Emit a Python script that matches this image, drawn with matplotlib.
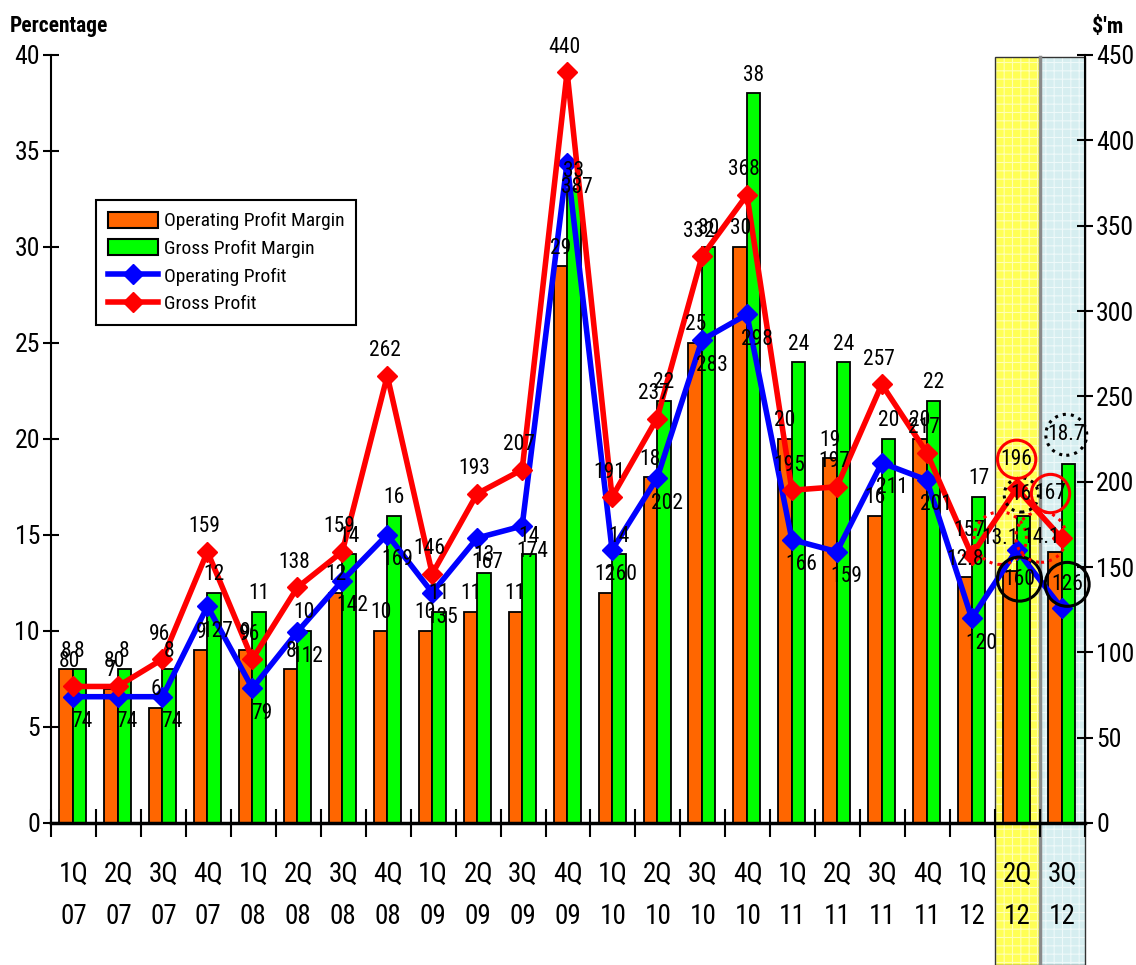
import numpy as np
import matplotlib
matplotlib.use("Agg")
import matplotlib.pyplot as plt
from matplotlib import font_manager as fm
from matplotlib.patches import Patch, Rectangle
from matplotlib.lines import Line2D

# ---------------- data ----------------
quarters = ["1Q\n07", "2Q\n07", "3Q\n07", "4Q\n07", "1Q\n08", "2Q\n08", "3Q\n08", "4Q\n08",
            "1Q\n09", "2Q\n09", "3Q\n09", "4Q\n09", "1Q\n10", "2Q\n10", "3Q\n10", "4Q\n10",
            "1Q\n11", "2Q\n11", "3Q\n11", "4Q\n11", "1Q\n12", "2Q\n12", "3Q\n12"]
op_margin = [8, 7, 6, 9, 9, 8, 12, 10, 10, 11, 11, 29, 12, 18, 25, 30, 20, 19, 16, 20, 12.8, 13.1, 14.1]
gross_margin = [8, 8, 8, 12, 11, 10, 14, 16, 11, 13, 14, 33, 14, 22, 30, 38, 24, 24, 20, 22, 17, 16, 18.7]
op_profit = [74, 74, 74, 127, 79, 112, 142, 169, 135, 167, 174, 387, 160, 202, 283, 298,
             166, 159, 211, 201, 120, 160, 126]
gross_profit = [80, 80, 96, 159, 96, 138, 159, 262, 146, 193, 207, 440, 191, 237, 332, 368,
                195, 197, 257, 217, 157, 196, 167]
series_names = ["Operating Profit Margin", "Gross Profit Margin", "Operating Profit", "Gross Profit"]

# ---------------- font choice (prefer a narrow face, like the original) ----------------
entries = fm.fontManager.ttflist
names = {f.name for f in entries}
FONT, STRETCH, S = "Liberation Sans", "normal", 0.9
for cand in ["Liberation Sans Narrow", "Arial Narrow", "Roboto Condensed", "Open Sans Condensed"]:
    if cand in names:
        FONT, STRETCH, S = cand, "normal", 1.0
        break
else:
    if any(f.name == "DejaVu Sans" and str(f.stretch) in ("condensed", "semi-condensed", "575", "500")
           for f in entries):
        FONT, STRETCH, S = "DejaVu Sans", "condensed", 0.92
plt.rcParams["font.family"] = [FONT, "DejaVu Sans"]
plt.rcParams["font.stretch"] = STRETCH
plt.rcParams["hatch.linewidth"] = 0.8

C_ORANGE = "#FF6600"
C_GREEN = "#00FF00"
C_BLUE = "#0000FF"
C_RED = "#FF0000"

W, H = 1136, 965
fig = plt.figure(figsize=(W / 100, H / 100), dpi=100)
ax = fig.add_axes([51 / W, 1 - 823 / H, (1085 - 51) / W, (823 - 55) / H])
ax2 = ax.twinx()

n = len(quarters)
x = np.arange(n) + 0.5
bw = 0.3
xj = x - 0.02

ax.set_xlim(0, n)
ax.set_ylim(0, 40)
ax2.set_ylim(0, 450)

# highlight bands for the last two quarters
ybot = (823 - H) / 768
ytop = (823 - 57) / 768
tr = ax.get_xaxis_transform()
band_specs = [(n - 2, "#FFFF55", "#FFFFB5"), (n - 1, "#D6EEF0", "#EEF9F9")]
for left, fc, hc in band_specs:
    ax.add_patch(Rectangle((left, ybot), 1, ytop - ybot, transform=tr, clip_on=False,
                           facecolor=fc, edgecolor=hc, hatch="++", lw=0, zorder=0.3))
    ax.add_patch(Rectangle((left, ybot), 1, ytop - ybot, transform=tr, clip_on=False,
                           facecolor="none", edgecolor="#333333", lw=1.0, zorder=0.4))
ax.add_line(Line2D([n - 1, n - 1], [ybot, ytop], transform=tr, color="#8A8A8A", lw=2.5,
                   clip_on=False, zorder=0.45))

# bars
ax.bar(xj - bw / 2, op_margin, bw, color=C_ORANGE, edgecolor="black", lw=1.3, zorder=2)
ax.bar(xj + bw / 2, gross_margin, bw, color=C_GREEN, edgecolor="black", lw=1.3, zorder=2)

# lines
ax2.plot(xj, op_profit, color=C_BLUE, lw=4, marker="D", ms=10, zorder=3)
ax2.plot(xj, gross_profit, color=C_RED, lw=4, marker="D", ms=10, zorder=3)

# ---------------- labels ----------------
lab_fs = 15.5 * S


def lab(v, xx, yy, trans, off, circ=None):
    kw = {}
    if circ is not None:
        ec, ls, pad = circ
        kw["bbox"] = dict(boxstyle=f"circle,pad={pad}", fc="none", ec=ec, ls=ls, lw=2.2)
    ax2.annotate(f"{v:g}", xy=(xx, yy), xycoords=trans, xytext=off, textcoords="offset points",
                 ha="center", va="center", fontsize=lab_fs, color="black", zorder=6,
                 annotation_clip=False, **kw)


over_orange = {n - 2: ((-7, 24), ("red", ":", 0.35)), n - 1: ((-10, 11), ("red", ":", 0.3))}
over_green = {n - 2: ((-1.5, 15), ("black", ":", 0.3)), n - 1: ((-1.5, 21), ("black", ":", 0.08))}
over_gross = {n - 2: ((0, 21), ("red", "-", 0.15)), n - 1: ((-8, 32), ("red", "-", 0.15))}
over_op = {n - 2: ((2, -21), ("black", "-", 0.28)), n - 1: ((4, 17), ("black", "-", 0.28))}

for i in range(n):
    off, c = over_orange.get(i, ((0, 13), None))
    lab(op_margin[i], xj[i] - bw / 2, op_margin[i], ax.transData, off, c)
    off, c = over_green.get(i, ((0, 13), None))
    lab(gross_margin[i], xj[i] + bw / 2, gross_margin[i], ax.transData, off, c)
    off, c = over_gross.get(i, ((-2, 18), None))
    lab(gross_profit[i], xj[i], gross_profit[i], ax2.transData, off, c)
    off, c = over_op.get(i, ((7, -18), None))
    lab(op_profit[i], xj[i], op_profit[i], ax2.transData, off, c)

# ---------------- axes styling ----------------
for sp in ["top", "right"]:
    ax.spines[sp].set_visible(False)
for sp in ["top", "left", "bottom"]:
    ax2.spines[sp].set_visible(False)
ax.spines["left"].set_linewidth(1.5)
ax.spines["bottom"].set_linewidth(2.5)
ax2.spines["right"].set_linewidth(1.5)

ax.set_yticks(np.arange(0, 41, 5))
ax2.set_yticks(np.arange(0, 451, 50))
ax.tick_params(axis="y", direction="inout", length=12, width=1.5, labelsize=18.5 * S, pad=2)
ax2.tick_params(axis="y", direction="inout", length=12, width=1.5, labelsize=18.5 * S, pad=2)

ax.set_xticks(x)
ax.set_xticklabels(quarters, fontsize=19.5 * S, linespacing=1.75)
ax.set_xticks(np.arange(0, n + 1), minor=True)
ax.tick_params(axis="x", which="major", length=0, pad=27)
ax.tick_params(axis="x", which="minor", direction="inout", length=20, width=1.5)

fig.text(10 / W, 1 - 26 / H, "Percentage", fontsize=15.5 * S, fontweight="bold", va="center", ha="left")
fig.text(1092 / W, 1 - 27 / H, "$'m", fontsize=16 * S, fontweight="bold", va="center", ha="left")

# legend
handles = [
    Patch(facecolor=C_ORANGE, edgecolor="black", lw=1.5),
    Patch(facecolor=C_GREEN, edgecolor="black", lw=1.5),
    Line2D([], [], color=C_BLUE, lw=4, marker="D", ms=10),
    Line2D([], [], color=C_RED, lw=4, marker="D", ms=10),
]
leg = ax2.legend(handles, series_names, loc="upper left", bbox_to_anchor=(96 / W, 1 - 200 / H),
                 bbox_transform=fig.transFigure, frameon=True, fancybox=False, edgecolor="black",
                 framealpha=1, fontsize=14 * S, borderpad=0.6, labelspacing=0.45,
                 handlelength=2.6, handleheight=0.9, handletextpad=0.3, borderaxespad=0)
leg.get_frame().set_linewidth(1.5)
leg.set_zorder(10)

fig.savefig("out.png", dpi=100)
